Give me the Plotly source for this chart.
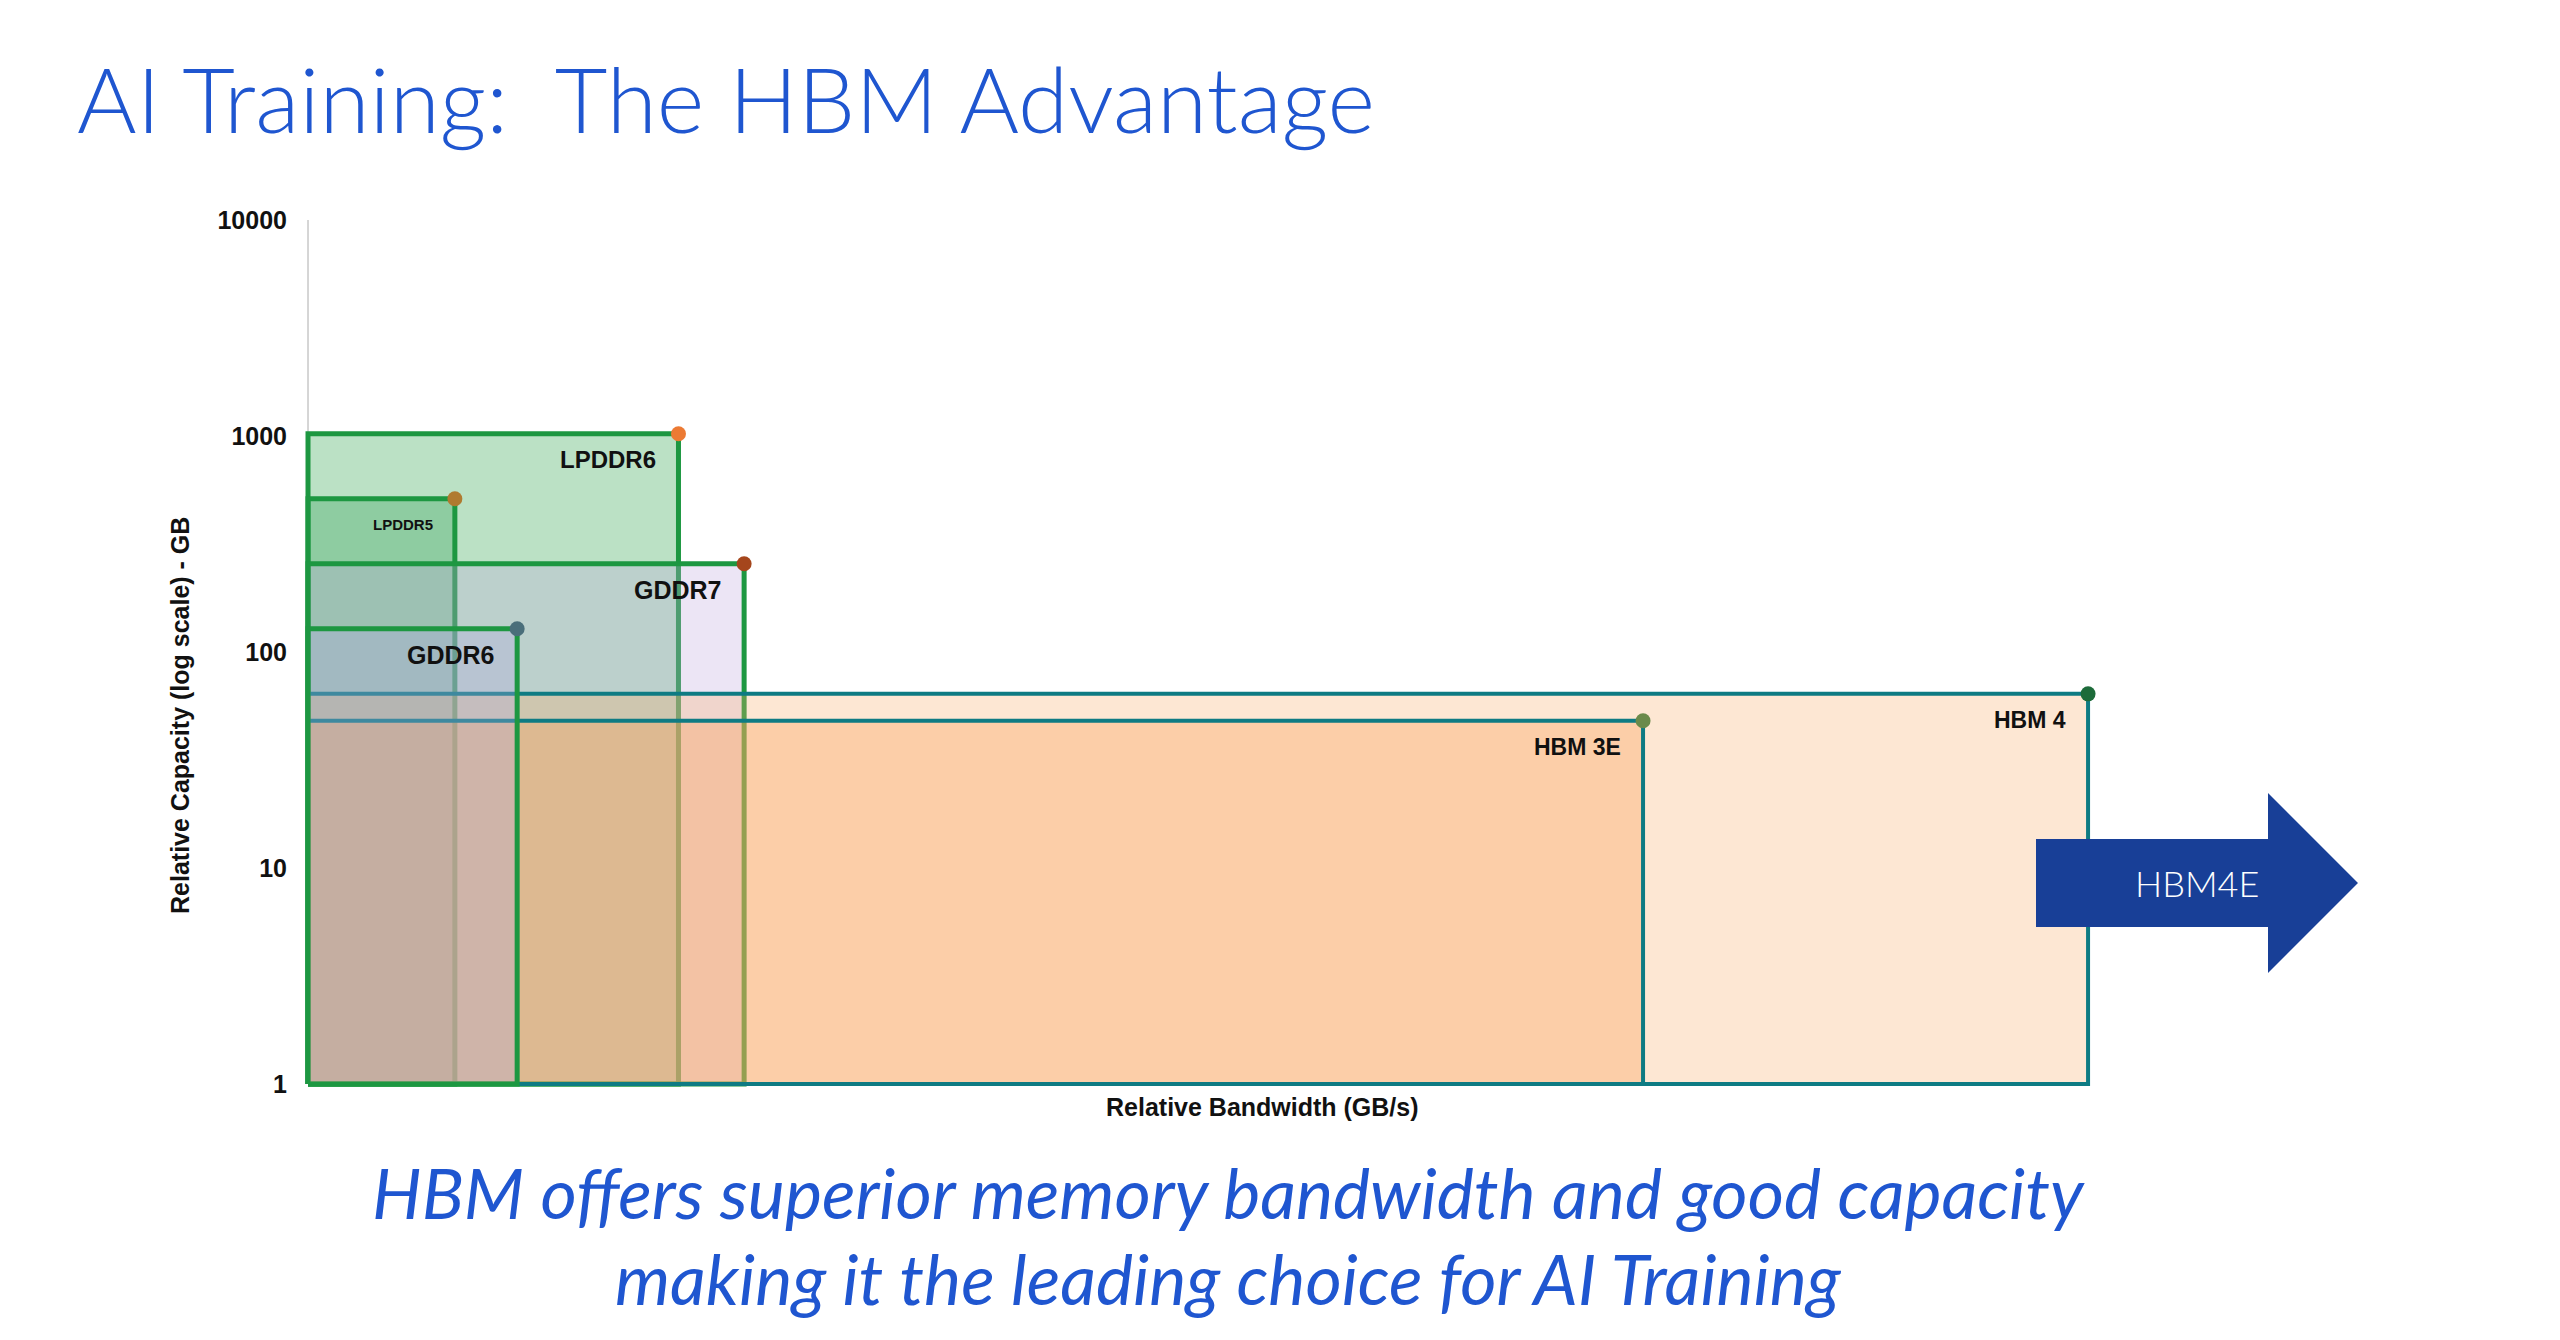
import math
import plotly.graph_objects as go

# ------------------------------------------------------------------ data
memory_types = ["LPDDR6", "LPDDR5", "GDDR7", "HBM 4", "HBM 3E", "GDDR6"]
rel_bandwidth = [333, 132, 392, 1600, 1200, 188]      # GB/s (relative)
rel_capacity = [1024, 512, 256, 64, 48, 128]          # GB (relative)

y_tick_values = [1, 10, 100, 1000, 10000]
y_tick_labels = ["1", "10", "100", "1000", "10000"]

title_text = "AI Training:\u00a0 The HBM Advantage"
subtitle_lines = [
    "HBM offers superior memory bandwidth and good capacity",
    "making it the leading choice for AI Training",
]
x_title = "Relative Bandwidth (GB/s)"
y_title = "Relative Capacity (log scale) - GB"
arrow_label = "HBM4E"

# ------------------------------------------------------------------ styles
GREEN = "#1d9741"
TEAL = "#0e7b83"
BLUE_TXT = "#1f56d0"
ARROW_BLUE = "#183f97"

styles = {
    "LPDDR6": dict(fill="rgba(120,195,140,0.50)", line=GREEN, lw=5, dot="#ec7a33", fs=24),
    "LPDDR5": dict(fill="rgba(60,165,95,0.35)", line=GREEN, lw=5, dot="#b07a30", fs=15),
    "GDDR7": dict(fill="rgba(192,168,222,0.30)", line=GREEN, lw=5, dot="#a5461c", fs=25),
    "HBM 4": dict(fill="rgba(250,175,110,0.30)", line=TEAL, lw=4, dot="#1d6b3a", fs=23),
    "HBM 3E": dict(fill="rgba(250,160,90,0.35)", line=TEAL, lw=4, dot="#6a8a4a", fs=23),
    "GDDR6": dict(fill="rgba(175,168,225,0.30)", line=GREEN, lw=5, dot="#4a6e7a", fs=25),
}

# ------------------------------------------------------------------ geometry
W, H = 2560, 1340
PL, PR, PT, PB = 302, 2216, 220, 1090
X_RANGE = [-5.4, 1715]
Y_RANGE = [-0.028, 4.0]


def xp(px):
    return (px - PL) / (PR - PL)


def yp(py):
    return (PB - py) / (PB - PT)


fig = go.Figure()

# y axis line (light grey)
fig.add_trace(go.Scatter(
    x=[0, 0], y=[y_tick_values[0], y_tick_values[-1]], mode="lines",
    line=dict(color="#c8c8c8", width=1.5), hoverinfo="skip", showlegend=False))

# rectangles
for name, bw, cap in zip(memory_types, rel_bandwidth, rel_capacity):
    st = styles[name]
    fig.add_trace(go.Scatter(
        x=[0, bw, bw, 0, 0], y=[1, 1, cap, cap, 1],
        mode="lines", fill="toself", fillcolor=st["fill"],
        line=dict(color=st["line"], width=st["lw"]),
        hoverinfo="skip", showlegend=False, name=name))

# corner dots
fig.add_trace(go.Scatter(
    x=rel_bandwidth, y=rel_capacity, mode="markers",
    marker=dict(size=15, color=[styles[n]["dot"] for n in memory_types]),
    hoverinfo="skip", showlegend=False))

annotations = []
for name, bw, cap in zip(memory_types, rel_bandwidth, rel_capacity):
    st = styles[name]
    annotations.append(dict(
        x=bw, y=math.log10(cap), xref="x", yref="y", text=f"<b>{name}</b>",
        showarrow=False, xanchor="right", yanchor="middle", xshift=-20, yshift=-26,
        font=dict(family="Liberation Sans, Arial", size=st["fs"], color="#111111")))

# axis titles
annotations.append(dict(
    x=xp(1262), y=yp(1107), xref="paper", yref="paper", text=f"<b>{x_title}</b>",
    showarrow=False, xanchor="center", yanchor="middle",
    font=dict(family="Liberation Sans, Arial", size=25, color="#111111")))
annotations.append(dict(
    x=xp(180), y=yp(716), xref="paper", yref="paper", text=f"<b>{y_title}</b>",
    showarrow=False, xanchor="center", yanchor="middle", textangle=-90,
    font=dict(family="Liberation Sans, Arial", size=25, color="#111111")))

# subtitle lines
SUB_SIZE = 70
for line, base in zip(subtitle_lines, [1219, 1305]):
    annotations.append(dict(
        x=xp(1228), y=yp(base - 0.387 * SUB_SIZE), xref="paper", yref="paper",
        text=f"<i>{line}</i>", showarrow=False, xanchor="center", yanchor="middle",
        font=dict(family="Lato", size=SUB_SIZE, color=BLUE_TXT)))

# arrow label
annotations.append(dict(
    x=xp(2197), y=yp(883), xref="paper", yref="paper", text=arrow_label,
    showarrow=False, xanchor="center", yanchor="middle",
    font=dict(family="Lato", size=36, color="white", weight=300)))

# arrow shape (paper coordinates)
pts = [(2036, 839), (2268, 839), (2268, 793), (2358, 883), (2268, 973), (2268, 927), (2036, 927)]
path = "M " + " L ".join(f"{xp(a):.5f},{yp(b):.5f}" for a, b in pts) + " Z"
shapes = [dict(type="path", path=path, xref="paper", yref="paper",
               fillcolor=ARROW_BLUE, line=dict(width=0), layer="above")]

fig.update_layout(
    width=W, height=H,
    margin=dict(l=PL, r=W - PR, t=PT, b=H - PB, pad=0),
    paper_bgcolor="white", plot_bgcolor="rgba(0,0,0,0)",
    title=dict(text=title_text, x=77 / W, xanchor="left", xref="container",
               y=1 - 101 / H, yanchor="middle", yref="container",
               font=dict(family="Lato", size=91, color=BLUE_TXT, weight=300)),
    xaxis=dict(range=X_RANGE, showgrid=False, zeroline=False, showline=False,
               showticklabels=False, ticks=""),
    yaxis=dict(type="log", range=Y_RANGE, showgrid=False, zeroline=False, showline=False,
               tickvals=y_tick_values, ticktext=[f"<b>{t}</b>" for t in y_tick_labels],
               ticks="", ticklabelstandoff=14,
               tickfont=dict(family="Liberation Sans, Arial", size=25, color="#111111")),
    annotations=annotations,
    shapes=shapes,
    showlegend=False,
)

fig.write_html("out.html", config={"displayModeBar": False},
               post_script="document.body.style.margin='0';document.body.style.overflow='hidden';")
